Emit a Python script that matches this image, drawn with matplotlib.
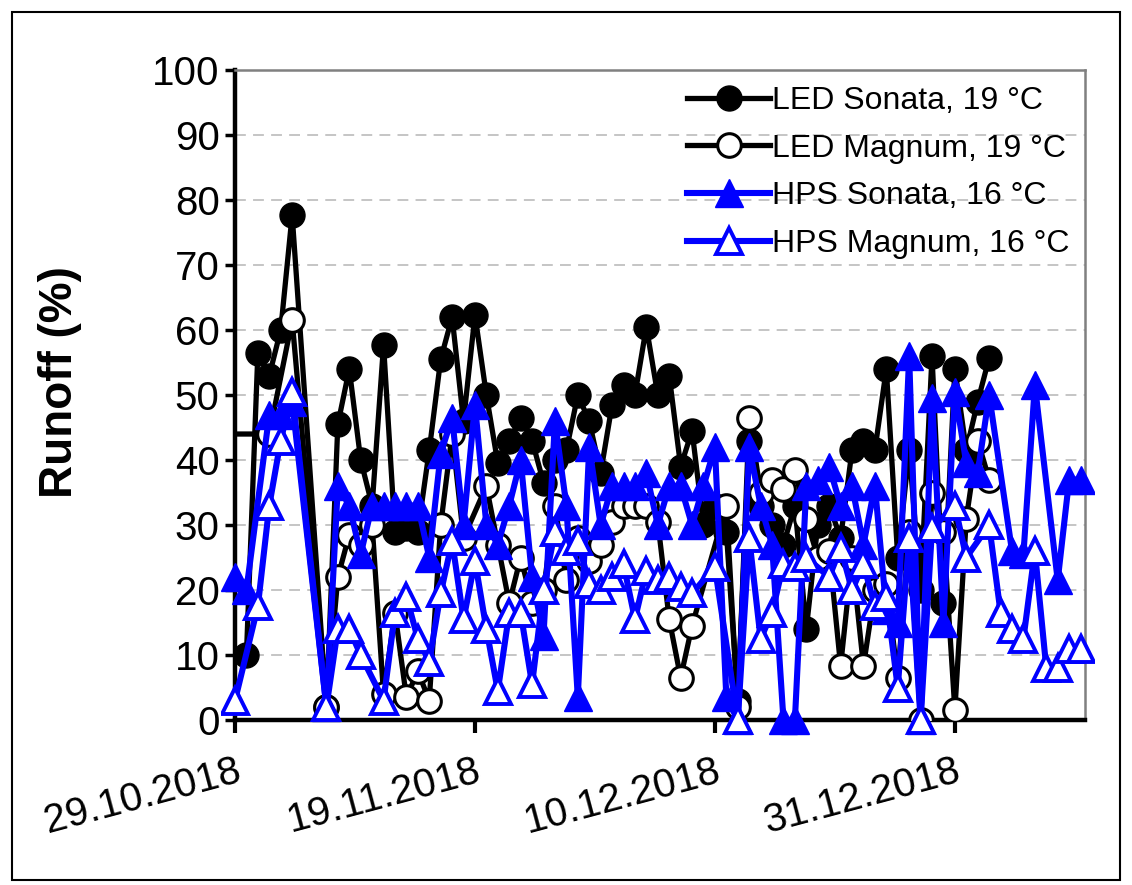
import matplotlib
matplotlib.use('Agg')
import matplotlib.pyplot as plt
import pandas as pd
from matplotlib.patches import Rectangle
from matplotlib.transforms import Bbox, TransformedBbox

plt.rcParams['font.family'] = ['Liberation Sans', 'DejaVu Sans']

start = pd.Timestamp('2018-10-29')

# days after 29.10.2018 and runoff (%)
led_sonata_days = [1, 2, 3, 4, 5, 8, 9, 10, 11, 12, 13, 14, 15, 16, 17, 18, 19, 20, 21, 22,
                   23, 24, 25, 26, 27, 28, 29, 30, 31, 32, 33, 34, 35, 36, 37, 38, 39, 40, 41, 42,
                   43, 44, 45, 46, 47, 48, 49, 50, 51, 52, 53, 54, 55, 56, 57, 58, 59, 60, 61, 62,
                   63, 64, 65, 66]
led_sonata = [10, 56.5, 53, 60, 77.7, 2, 45.5, 54, 40, 33, 57.7, 29, 29.5, 29, 41.5, 55.5, 62, 46, 62.3, 50,
              39.5, 43, 46.5, 43, 36.5, 40, 41.5, 50, 46, 38, 48.5, 51.5, 50, 60.5, 50, 53, 39, 44.5, 30, 33,
              29, 3, 43, 33, 30, 27, 33, 14, 30, 33, 28, 41.5, 43, 41.5, 54, 25, 41.5, 20, 56, 18,
              54, 41.5, 49, 55.7]

led_magnum_days = [0, 3, 5, 8, 9, 10, 11, 12, 13, 14, 15, 16, 17, 18, 19, 20, 22, 23, 24, 25,
                   26, 27, 28, 29, 30, 31, 32, 33, 34, 35, 36, 37, 38, 39, 40, 43, 44, 45, 46, 47,
                   48, 49, 50, 51, 52, 53, 54, 55, 56, 57, 58, 59, 60, 61, 62, 63, 64, 65, 66]
led_magnum = [44, 44, 61.5, 2, 22, 28.5, 27, 30, 4, 16.5, 3.5, 7.5, 3, 30, 44, 28, 36, 27, 18, 25,
              18, 20, 33, 21.5, 28, 24.5, 27, 30.5, 33, 33, 33, 30.5, 15.5, 6.5, 14.5, 33, 2, 46.5, 35, 37,
              35.5, 38.5, 31, 25, 26, 8.3, 25, 8.3, 20, 21, 6.5, 29, 0, 35, 29, 1.5, 31, 43, 37]

hps_sonata_days = [0, 1, 3, 4, 5, 8, 9, 10, 11, 12, 13, 14, 15, 16, 17, 18, 19, 20, 21, 22,
                   23, 24, 25, 26, 27, 28, 29, 30, 31, 32, 33, 34, 35, 36, 37, 38, 39, 40, 41, 42,
                   43, 44, 45, 46, 47, 48, 49, 50, 51, 52, 53, 54, 55, 56, 57, 58, 59, 60, 61, 62,
                   63, 64, 65, 66, 68, 69, 70, 72, 73, 74]
hps_sonata = [22, 20, 47, 47, 49, 2, 36, 33, 25.5, 33, 33, 33, 33, 33, 25, 41, 46.5, 30, 48.5, 30,
              27, 33, 40, 22, 13, 46, 33, 3.5, 42, 30, 36, 36, 36, 38, 30, 36, 36, 30, 36, 42,
              3.5, 0, 42, 33, 27, 0, 0, 36, 37, 39, 33, 36, 27, 36, 17, 15, 56, 0, 49.5, 15,
              50.5, 39.5, 38, 50, 26, 25.5, 51.5, 21.5, 37, 37]

hps_magnum_days = [0, 2, 3, 4, 5, 8, 9, 10, 11, 13, 14, 15, 16, 17, 18, 19, 20, 21, 22, 23,
                   24, 25, 26, 27, 28, 29, 30, 31, 32, 33, 34, 35, 36, 37, 38, 39, 40, 42, 44, 45,
                   46, 47, 48, 49, 50, 52, 53, 54, 55, 56, 57, 58, 59, 60, 61, 63, 64, 66, 67, 68,
                   69, 70, 71, 72, 73, 74]
hps_magnum = [3, 17.5, 33, 43, 50.5, 2, 14, 14, 10, 3, 16.5, 19, 12.5, 9, 19.5, 27.5, 15.5, 24.5, 14, 4.5,
              16.5, 16.5, 5.5, 20, 29, 26, 27.5, 21, 20, 22, 24, 15.5, 23, 21.5, 22, 20.5, 19.5, 23.5, 0, 28,
              12.5, 16.5, 24, 23.5, 25, 22, 26.5, 20, 24, 17.5, 19, 5, 28, 0, 29.5, 33, 25, 30, 16.5, 14,
              12.5, 26, 8, 8, 11, 11]

tick_days = [0, 21, 42, 63]
tick_labels = ['29.10.2018', '19.11.2018', '10.12.2018', '31.12.2018']


def to_dates(days):
    return [start + pd.Timedelta(days=d) for d in days]


fig = plt.figure(figsize=(11.32, 8.85), dpi=100)
ax = fig.add_axes([0.2076, 0.1864, 0.751, 0.7345])

l1, = ax.plot(to_dates(led_sonata_days), led_sonata, color='black', lw=3.8, marker='o', ms=18,
              mfc='black', mec='black', label='LED Sonata, 19 °C', zorder=3)
# first LED Magnum marker sits hidden under the y axis in the original
l2, = ax.plot(to_dates(led_magnum_days), led_magnum, color='black', lw=3.8, marker='o', ms=17,
              mfc='white', mec='black', mew=2.2, label='LED Magnum, 19 °C', zorder=4,
              markevery=slice(1, None))
l3, = ax.plot(to_dates(hps_sonata_days), hps_sonata, color='blue', lw=4.4, marker='^', ms=20,
              mfc='blue', mec='blue', label='HPS Sonata, 16 °C', zorder=5)
l4, = ax.plot(to_dates(hps_magnum_days), hps_magnum, color='blue', lw=4.4, marker='^', ms=19,
              mfc='white', mec='blue', mew=2.8, label='HPS Magnum, 16 °C', zorder=6)

# markers at 0 may overhang the axes
clip = TransformedBbox(Bbox([[-0.016, -0.1], [1.01, 1.1]]), ax.transAxes)
for ln in (l1, l3, l4):
    ln.set_clip_box(clip)

ax.set_ylim(0, 100)
ax.set_yticks(range(0, 101, 10))
ax.set_xlim(start, start + pd.Timedelta(days=74.4))
ax.set_xticks(to_dates(tick_days))
ax.set_xticklabels(tick_labels, rotation=15, ha='right', rotation_mode='anchor')

ax.yaxis.grid(True, color='#c0c0c0', ls=(0, (6, 4)), lw=1.3)
ax.set_axisbelow(True)

for s in ['left', 'bottom']:
    ax.spines[s].set_linewidth(3.2)
    ax.spines[s].set_color('black')
for s in ['top', 'right']:
    ax.spines[s].set_linewidth(1.8)
    ax.spines[s].set_color('#808080')

ax.tick_params(axis='y', labelsize=29, length=7, width=2.5, pad=4)
ax.tick_params(axis='x', labelsize=29, length=9, width=3, pad=14)

ax.set_ylabel('Runoff (%)', fontsize=33, fontweight='bold')
ax.yaxis.set_label_coords(-0.18, 0.52)

ax.legend(loc='upper right', bbox_to_anchor=(1.0, 1.0), frameon=False, fontsize=23,
          handlelength=2.6, handletextpad=0.05, labelspacing=0.55, borderaxespad=0.1)

fig.patches.append(Rectangle((0.0106, 0.006), 0.9788, 0.9804, transform=fig.transFigure,
                             fill=False, lw=1.5, ec='black'))

fig.savefig('out.png', dpi=100)
